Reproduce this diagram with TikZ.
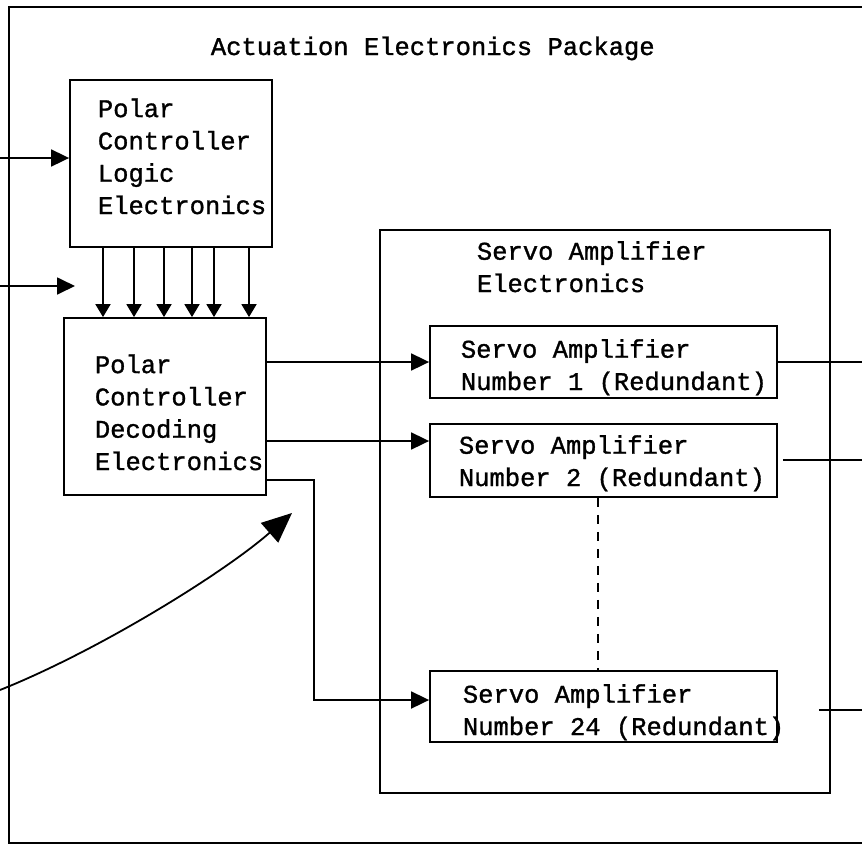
\documentclass[tikz,border=0pt]{standalone}
\usepackage{fontspec}
\newfontfamily\tw[FakeBold=1.2]{Liberation Mono}
\usetikzlibrary{arrows.meta}
\begin{document}
\begin{tikzpicture}[x=1pt,y=-1pt,
  line width=1.8pt,
  box/.style={draw, rectangle, inner sep=0pt, line width=1.8pt},
  txt/.style={font=\tw\fontsize{25.5}{32.3}\selectfont, align=left, inner sep=0pt, anchor=base west},
  arr/.style={-{Triangle[length=18pt,width=17pt]}},
  sarr/.style={-{Triangle[length=13pt,width=15pt]}},
  barr/.style={-{Triangle[length=30pt,width=26pt]}}]
\useasboundingbox (0,0) rectangle (862,844);
% outer package frame
\coordinate (fr1) at (862,7);
\coordinate (fr2) at (9,7);
\coordinate (fr3) at (9,843);
\coordinate (fr4) at (862,843);
\draw (fr1) -- (fr2) -- (fr3) -- (fr4);
\node[txt] (title) at (210,55) {Actuation Electronics Package};
% boxes
\node[box, minimum width=202pt, minimum height=167pt] (logic) at (171,163.5) {};
\node[box, minimum width=202pt, minimum height=177pt] (dec) at (165,406.5) {};
\node[box, minimum width=450pt, minimum height=563pt] (servo) at (605,511.5) {};
\node[box, minimum width=347pt, minimum height=72pt] (sa1) at (603.5,362) {};
\node[box, minimum width=347pt, minimum height=73pt] (sa2) at (603.5,460.5) {};
\node[box, minimum width=347pt, minimum height=71pt] (sa24) at (603.5,706.5) {};
% texts (anchor = baseline of last line)
\node[txt] (logict) at (97,214) {Polar\\Controller\\Logic\\Electronics};
\node[txt] (dect) at (94,470) {Polar\\Controller\\Decoding\\Electronics};
\node[txt] (servot) at (476,292) {Servo Amplifier\\Electronics};
\node[txt] (sa1t) at (460,390) {Servo Amplifier\\Number 1 (Redundant)};
\node[txt] (sa2t) at (458,486) {Servo Amplifier\\Number 2 (Redundant)};
\node[txt] (sa24t) at (462,735) {Servo Amplifier\\Number 24 (Redundant)};
% inputs
\coordinate (in1) at (0,158);
\coordinate (in2) at (0,286);
\coordinate (in2e) at (75,286);
\coordinate (in3) at (0,690);
\coordinate (in3e) at (292,513);
\draw[arr] (in1) -- ([yshift=5.5pt]logic.west);
\draw[arr] (in2) -- (in2e);
\draw[barr] (in3) .. controls (100,650) and (225,572) .. (in3e);
% logic to decoding
\foreach \x in {103,134,164,192,214,249}
  \draw[sarr] (logic.south -| \x,0) -- (dec.north -| \x,0);
% decoding to servo amplifiers
\draw[arr] (sa1.west -| dec.east) -- (sa1.west);
\draw[arr] ([yshift=19.5pt]sa2.west -| dec.east) -- ([yshift=19.5pt]sa2.west);
\coordinate (bend) at (314,480);
\draw[arr] (bend -| dec.east) -- (bend) -- ([yshift=6.5pt]sa24.west -| bend) -- ([yshift=6.5pt]sa24.west);
% dashed continuation
\draw[dash pattern=on 9pt off 8pt, line width=1.5pt] ([xshift=-5.5pt]sa2.south) -- ([xshift=-5.5pt]sa24.north);
% outputs
\coordinate (o1) at (862,362);
\coordinate (o2) at (862,460);
\coordinate (o3) at (862,710);
\draw (sa1.east) -- (o1);
\draw ([xshift=5pt]sa2.east |- o2) -- (o2);
\draw ([xshift=41pt]sa24.east |- o3) -- (o3);
\end{tikzpicture}
\end{document}
